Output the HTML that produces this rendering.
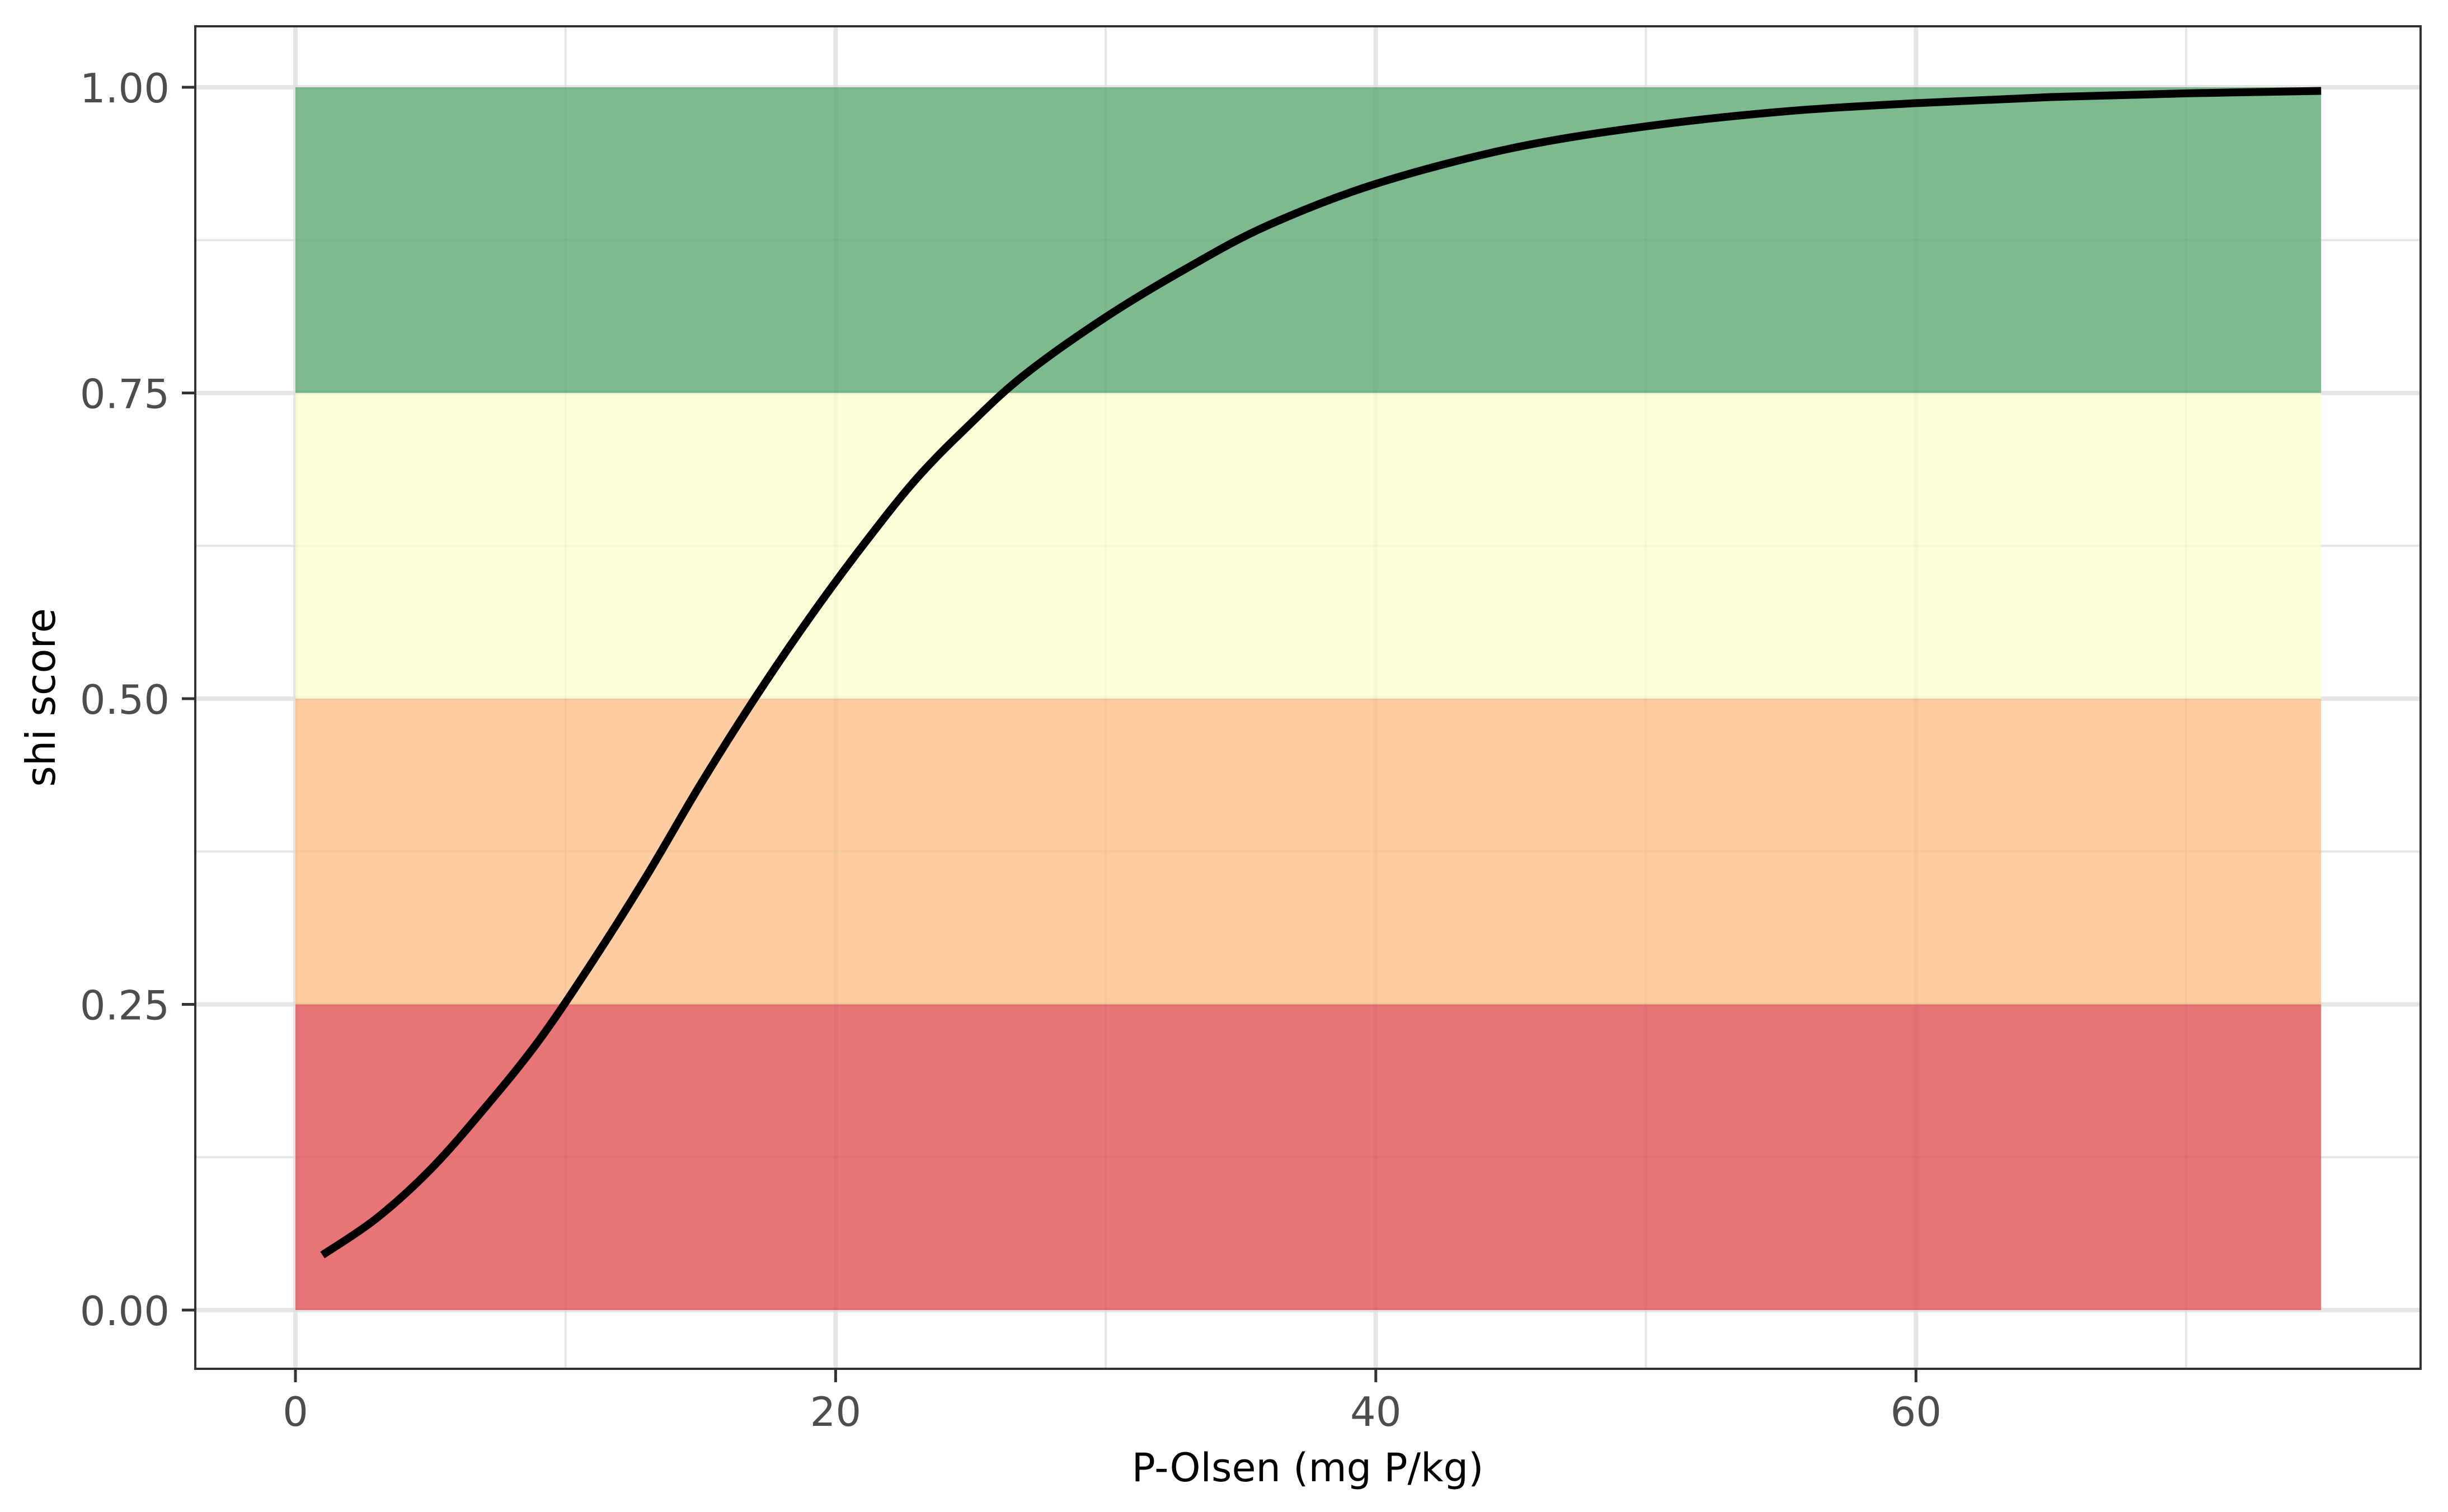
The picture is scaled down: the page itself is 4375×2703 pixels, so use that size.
<!DOCTYPE html>
<html><head><meta charset="utf-8"><style>
html,body{margin:0;padding:0;background:#fff;}
svg{display:block;}
text{font-family:"DejaVu Sans","Liberation Sans",sans-serif;}
</style></head><body>
<svg id="chart" width="4375" height="2703" viewBox="0 0 4375 2703" xmlns="http://www.w3.org/2000/svg">
<rect x="0" y="0" width="4375" height="2703" fill="#fff"/>
<g id="grid"></g>
<g id="bands"></g>
<g id="gridover"></g>
<g id="series"></g>
<rect x="349" y="47" width="3977" height="2400" fill="none" stroke="#333" stroke-width="4"/>
<g id="axes"></g>
<text x="2337" y="2648" text-anchor="middle" font-size="70" fill="#000">P-Olsen (mg P/kg)</text>
<text transform="translate(98,1247) rotate(-90)" text-anchor="middle" font-size="72" fill="#000">shi score</text>
</svg>
<script>
const xTicks = [0, 20, 40, 60];
const xMinor = [10, 30, 50, 70];
const yTicks = [0, 0.25, 0.5, 0.75, 1];
const yTickLabels = ["0.00", "0.25", "0.50", "0.75", "1.00"];
const yMinor = [0.125, 0.375, 0.625, 0.875];
const bandLow = [0, 0.25, 0.5, 0.75];
const bandHigh = [0.25, 0.5, 0.75, 1];
const bandColors = ["#e77477", "#fdcca0", "#fefed9", "#7dba8f"];
const bandNames = ["band-poor", "band-low", "band-moderate", "band-good"];
const bandXStart = 0;
const bandXEnd = 75;
const curveX = [1,3,5,7,9,11,13,15,17,19,21,23,25,27,30,33,36,40,45,50,55,60,65,70,75];
const curveY = [0.045,0.075,0.115,0.165,0.22,0.285,0.355,0.43,0.50,0.565,0.625,0.68,0.725,0.765,0.812,0.852,0.887,0.921,0.950,0.968,0.980,0.987,0.992,0.995,0.997];

const NS = "http://www.w3.org/2000/svg";
const X0 = 528, XS = 48.27;
const Y0 = 2342, YS = 2186;
const PL = 349, PR = 4326, PT = 47, PB = 2447;
function sx(v){ return X0 + v*XS; }
function sy(v){ return Y0 - v*YS; }
function mk(tag, attrs, parent){
  const e = document.createElementNS(NS, tag);
  for (const k in attrs) e.setAttribute(k, attrs[k]);
  parent.appendChild(e); return e;
}
const grid = document.getElementById('grid');
const gover = document.getElementById('gridover');
function gridLines(parent, col, wMaj, wMin){
  xMinor.forEach(v=>{ const l=mk('line',{x1:sx(v),x2:sx(v),y1:PT,y2:PB,stroke:col,'stroke-width':wMin},parent);
      });
  yMinor.forEach(v=>{ const l=mk('line',{x1:PL,x2:PR,y1:sy(v),y2:sy(v),stroke:col,'stroke-width':wMin},parent);
      });
  xTicks.forEach(v=>{ const l=mk('line',{x1:sx(v),x2:sx(v),y1:PT,y2:PB,stroke:col,'stroke-width':wMaj},parent);
      });
  yTicks.forEach(v=>{ const l=mk('line',{x1:PL,x2:PR,y1:sy(v),y2:sy(v),stroke:col,'stroke-width':wMaj},parent);
      });
}
gridLines(grid, '#ebebeb', 8, 4);

const bands = document.getElementById('bands');
bandLow.forEach((lo,i)=>{
  const r = mk('rect',{x:sx(bandXStart),y:sy(bandHigh[i]),width:sx(bandXEnd)-sx(bandXStart),height:sy(lo)-sy(bandHigh[i]),fill:bandColors[i]},bands);
  
  
});
gridLines(gover, 'rgba(0,0,0,0.025)', 8, 4);

const series = document.getElementById('series');
let d = "";
const pts = curveX.map((x,i)=>[sx(x), sy(curveY[i])]);
d = "M"+pts[0][0]+","+pts[0][1];
for (let i=0;i<pts.length-1;i++){
  const p0=pts[Math.max(0,i-1)], p1=pts[i], p2=pts[i+1], p3=pts[Math.min(pts.length-1,i+2)];
  const c1x=p1[0]+(p2[0]-p0[0])/6, c1y=p1[1]+(p2[1]-p0[1])/6;
  const c2x=p2[0]-(p3[0]-p1[0])/6, c2y=p2[1]-(p3[1]-p1[1])/6;
  d += " C"+c1x+","+c1y+" "+c2x+","+c2y+" "+p2[0]+","+p2[1];
}
const path = mk('path',{d:d,fill:'none',stroke:'#000','stroke-width':14},series);



const axes = document.getElementById('axes');
xTicks.forEach(v=>{
  const t = mk('line',{x1:sx(v),x2:sx(v),y1:PB,y2:PB+24,stroke:'#333','stroke-width':5},axes);
   
  const tx = mk('text',{x:sx(v),y:PB+102,'text-anchor':'middle','font-size':72,fill:'#4d4d4d'},axes);
  tx.textContent = String(v);
   
});
yTicks.forEach((v,i)=>{
  const t = mk('line',{x1:PL-24,x2:PL,y1:sy(v),y2:sy(v),stroke:'#333','stroke-width':5},axes);
   
  const tx = mk('text',{x:PL-46,y:sy(v)+27,'text-anchor':'end','font-size':72,fill:'#4d4d4d'},axes);
  tx.textContent = yTickLabels[i];
   
});
</script>
</body></html>
